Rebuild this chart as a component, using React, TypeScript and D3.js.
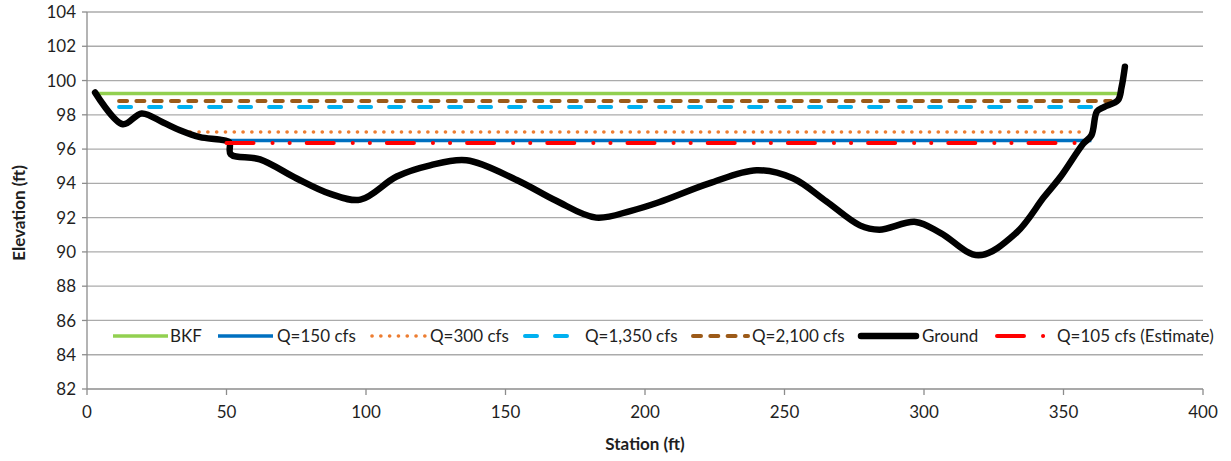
import React from "react";
import * as d3 from "d3";

const W = 1231;
const H = 461;
const margin = { left: 87, right: 28, top: 12, bottom: 72 };

const xTicks = [0, 50, 100, 150, 200, 250, 300, 350, 400];
const yTicks = [82, 84, 86, 88, 90, 92, 94, 96, 98, 100, 102, 104];

const groundStation = [2.9, 12.8, 19.6, 27.3, 33.3, 40.5, 47.7, 51.0, 51.5, 62, 75, 87, 98, 111, 123, 136, 154, 168, 182.5, 195, 205, 223, 240, 253, 265, 277, 284, 297, 306, 319.5, 333, 343, 349, 357, 360, 362, 364.5, 369.5, 370.8, 372];
const groundElev = [99.3, 97.45, 98.08, 97.55, 97.1, 96.7, 96.55, 96.4, 95.7, 95.4, 94.3, 93.4, 93.05, 94.4, 95.05, 95.35, 94.2, 93.0, 92.0, 92.4, 92.9, 94.0, 94.77, 94.3, 92.95, 91.55, 91.3, 91.75, 91.1, 89.8, 91.1, 93.2, 94.4, 96.3, 96.8, 98.2, 98.45, 98.85, 99.6, 100.8];

const bkfStation = [3, 369.5];
const bkfElev = [99.25, 99.25];
const q150Station = [50, 360];
const q150Elev = [96.5, 96.5];
const q300Station = [37, 357];
const q300Elev = [97.0, 97.0];
const q1350Station = [11.5, 362];
const q1350Elev = [98.45, 98.45];
const q2100Station = [11.5, 367];
const q2100Elev = [98.8, 98.8];
const q105Station = [50, 356];
const q105Elev = [96.35, 96.35];

const seriesNames = ["BKF", "Q=150 cfs", "Q=300 cfs", "Q=1,350 cfs", "Q=2,100 cfs", "Ground", "Q=105 cfs (Estimate)"];

type Style = { color: string; width: number; dash?: string; cap: "round" | "butt" };
const styles: Style[] = [
  { color: "#92D050", width: 3.5, cap: "butt" },
  { color: "#0070C0", width: 3.5, cap: "butt" },
  { color: "#ED7D31", width: 3.6, dash: "0.1 8.7", cap: "round" },
  { color: "#00B0F0", width: 4, dash: "12 18", cap: "round" },
  { color: "#9C5A18", width: 4, dash: "8 9.3", cap: "round" },
  { color: "#000000", width: 6.5, cap: "round" },
  { color: "#FF0000", width: 4, dash: "27 19 0.1 17 0.1 17", cap: "round" },
];

const series = [
  { x: bkfStation, y: bkfElev },
  { x: q150Station, y: q150Elev },
  { x: q300Station, y: q300Elev },
  { x: q1350Station, y: q1350Elev },
  { x: q2100Station, y: q2100Elev },
  { x: groundStation, y: groundElev },
  { x: q105Station, y: q105Elev },
];

const legendLineX = [113, 218, 372, 525, 693, 861, 997];
const legendTextX = [170, 277, 430, 585, 752, 922, 1057];
const legendLen = 55;

export default function App() {
  const x = d3.scaleLinear().domain([0, 400]).range([margin.left, W - margin.right]);
  const y = d3.scaleLinear().domain([82, 104]).range([H - margin.bottom, margin.top]);
  const font = "Lato, 'Open Sans', sans-serif";
  const gridColor = "#ABABAB";
  const axisColor = "#8C8C8C";
  const textColor = "#1f1f1f";
  const fs = 17;

  const mkLine = (i: number) => {
    const pts = series[i].x.map((v, k) => [v, series[i].y[k]] as [number, number]);
    const gen = d3
      .line<[number, number]>()
      .x((d) => x(d[0]))
      .y((d) => y(d[1]))
      .curve(i === 5 ? d3.curveCatmullRom.alpha(0.5) : d3.curveLinear);
    return gen(pts) || "";
  };

  const legendY = 336;

  return (
    <svg width={W} height={H} style={{ position: "absolute", left: 0, top: 0, background: "#fff" }}>
      <rect x={0} y={0} width={W} height={H} fill="#fff" />
      {yTicks.map((t) => (
        <g key={"y" + t}>
          {t !== 82 && (
            <line x1={x(0)} x2={x(400)} y1={y(t)} y2={y(t)} stroke={gridColor} strokeWidth={1.3} />
          )}
          <line x1={x(0) - 5} x2={x(0)} y1={y(t)} y2={y(t)} stroke={axisColor} strokeWidth={1.3} />
          <text x={x(0) - 11} y={y(t)} dy="0.36em" textAnchor="end" fontFamily={font} fontSize={fs} fill={textColor}>
            {t}
          </text>
        </g>
      ))}
      <line x1={x(0)} x2={x(0)} y1={y(104)} y2={y(82)} stroke={axisColor} strokeWidth={1.3} />
      <line x1={x(0)} x2={x(400)} y1={y(82)} y2={y(82)} stroke={axisColor} strokeWidth={1.3} />
      {xTicks.map((t) => (
        <g key={"x" + t}>
          <line x1={x(t)} x2={x(t)} y1={y(82)} y2={y(82) + 6} stroke={axisColor} strokeWidth={1.3} />
          <text x={x(t)} y={y(82) + 29} textAnchor="middle" fontFamily={font} fontSize={fs} fill={textColor}>
            {t}
          </text>
        </g>
      ))}
      <text
        transform={`translate(${19},${213}) rotate(-90)`}
        textAnchor="middle"
        dy="0.36em"
        fontFamily={font}
        fontSize={fs}
        fontWeight="bold"
        fill={textColor}
      >
        Elevation (ft)
      </text>
      <text x={(x(0) + x(400)) / 2} y={450} textAnchor="middle" fontFamily={font} fontSize={fs} fontWeight="bold" fill={textColor}>
        Station (ft)
      </text>

      {series.map((s, i) => (
        <path
          key={"s" + i}
          d={mkLine(i)}
          fill="none"
          stroke={styles[i].color}
          strokeWidth={styles[i].width}
          strokeDasharray={styles[i].dash}
          strokeLinecap={styles[i].cap}
          strokeLinejoin="round"
        />
      ))}

      {seriesNames.map((n, i) => (
        <g key={"l" + i}>
          <line
            x1={legendLineX[i]}
            x2={legendLineX[i] + legendLen}
            y1={legendY}
            y2={legendY}
            stroke={styles[i].color}
            strokeWidth={styles[i].width}
            strokeDasharray={styles[i].dash}
            strokeLinecap={styles[i].cap}
          />
          <text x={legendTextX[i]} y={legendY} dy="0.36em" fontFamily={font} fontSize={fs} fill={textColor}>
            {n}
          </text>
        </g>
      ))}
    </svg>
  );
}
